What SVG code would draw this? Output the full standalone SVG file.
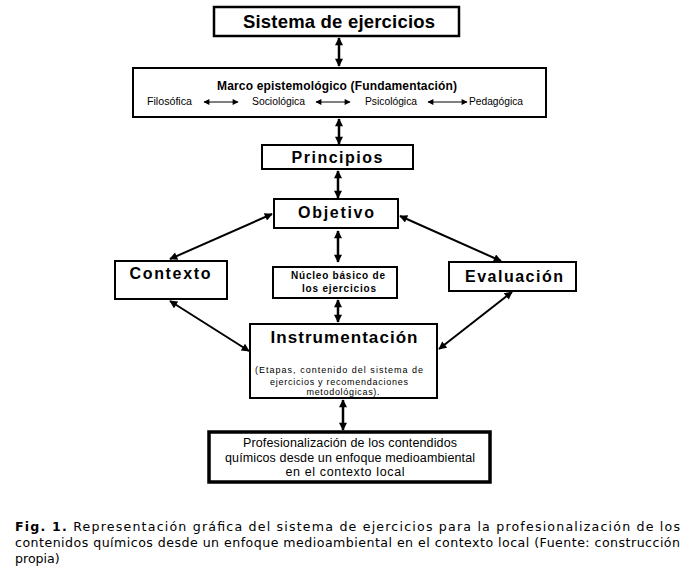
<svg xmlns="http://www.w3.org/2000/svg" width="689" height="572" viewBox="0 0 689 572">
<style>
.box{fill:#fff;stroke:#000;stroke-width:2}
.t{font-family:"Liberation Sans",Arial,sans-serif;fill:#000;text-anchor:middle}
.b{font-weight:bold}
.con{stroke:#000;fill:none}
.v{stroke-width:2.5;marker-start:url(#ah);marker-end:url(#ah)}
.d{stroke-width:2;marker-start:url(#ah2);marker-end:url(#ah2)}
.s{stroke-width:1;marker-start:url(#ah3);marker-end:url(#ah3)}
.cap{font-family:"DejaVu Sans",Verdana,sans-serif;font-size:12.6px;fill:#000}
</style>
<defs>
<marker id="ah" viewBox="0 0 10 10" refX="9" refY="5" markerWidth="3.6" markerHeight="3.2" orient="auto-start-reverse" markerUnits="strokeWidth"><path d="M0,0L10,5L0,10z" fill="#000"/></marker>
<marker id="ah2" viewBox="0 0 10 10" refX="9" refY="5" markerWidth="5" markerHeight="4" orient="auto-start-reverse" markerUnits="strokeWidth"><path d="M0,0L10,5L0,10z" fill="#000"/></marker>
<marker id="ah3" viewBox="0 0 10 10" refX="9" refY="5" markerWidth="8" markerHeight="6" orient="auto-start-reverse" markerUnits="strokeWidth"><path d="M0,0L10,5L0,10z" fill="#000"/></marker>
</defs>
<rect width="689" height="572" fill="#fff"/>
<g id="connectors">
<line class="con v" x1="339" y1="38" x2="339" y2="66"/>
<line class="con v" x1="339" y1="119" x2="339" y2="144"/>
<line class="con v" x1="338" y1="171" x2="338" y2="198"/>
<line class="con v" x1="338" y1="231" x2="338" y2="262"/>
<line class="con v" x1="338" y1="300" x2="338" y2="322"/>
<line class="con v" x1="343" y1="400" x2="343" y2="430"/>
<line class="con d" x1="272" y1="214" x2="170" y2="259"/>
<line class="con d" x1="400" y1="216" x2="501" y2="261"/>
<line class="con d" x1="170" y1="301" x2="249" y2="351"/>
<line class="con d" x1="512" y1="292" x2="439" y2="349"/>
</g>
<g id="sistema">
<rect class="box" x="214" y="7" width="245" height="29" style="stroke-width:2.5"/>
<text class="t b" x="339" y="28" font-size="18.5" textLength="192" lengthAdjust="spacing">Sistema de ejercicios</text>
</g>
<g id="marco">
<rect class="box" x="133" y="68" width="413" height="49"/>
<text class="t b" x="337" y="90" font-size="12" textLength="240" lengthAdjust="spacing">Marco epistemológico (Fundamentación)</text>
<g class="t" font-size="10" style="text-anchor:start">
<text x="147" y="105" textLength="45" lengthAdjust="spacingAndGlyphs">Filosófica</text>
<text x="252" y="105" textLength="53" lengthAdjust="spacingAndGlyphs">Sociológica</text>
<text x="365" y="105" textLength="52" lengthAdjust="spacingAndGlyphs">Psicológica</text>
<text x="469" y="105" textLength="54" lengthAdjust="spacingAndGlyphs">Pedagógica</text>
</g>
<line class="con s" x1="204" y1="102" x2="238" y2="102"/>
<line class="con s" x1="316" y1="102" x2="350" y2="102"/>
<line class="con s" x1="428" y1="102" x2="467" y2="102"/>
</g>
<g id="principios">
<rect class="box" x="262" y="145" width="151" height="24"/>
<text class="t b" x="337" y="163" font-size="16" textLength="91" lengthAdjust="spacing">Principios</text>
</g>
<g id="objetivo">
<rect class="box" x="274" y="199" width="124" height="29"/>
<text class="t b" x="336" y="218" font-size="16" textLength="76" lengthAdjust="spacing">Objetivo</text>
</g>
<g id="contexto">
<rect class="box" x="115" y="261" width="112" height="38"/>
<text class="t b" x="170" y="279" font-size="16" textLength="81" lengthAdjust="spacing">Contexto</text>
</g>
<g id="nucleo">
<rect class="box" x="273" y="267" width="124" height="31"/>
<text class="t b" x="338" y="279" font-size="10" textLength="94" lengthAdjust="spacing">Núcleo básico de</text>
<text class="t b" x="339" y="292" font-size="10" textLength="74" lengthAdjust="spacing">los ejercicios</text>
</g>
<g id="evaluacion">
<rect class="box" x="449" y="262" width="127" height="29"/>
<text class="t b" x="514" y="282" font-size="16" textLength="98" lengthAdjust="spacing">Evaluación</text>
</g>
<g id="instrumentacion">
<rect class="box" x="250" y="324" width="187" height="74"/>
<text class="t b" x="344" y="343" font-size="17" textLength="147" lengthAdjust="spacing">Instrumentación</text>
<text class="t" x="339" y="373" font-size="9" textLength="168" lengthAdjust="spacing">(Etapas, contenido  del sistema de</text>
<text class="t" x="339" y="385" font-size="9" textLength="138" lengthAdjust="spacing">ejercicios y recomendaciones</text>
<text class="t" x="343" y="395" font-size="9" textLength="73" lengthAdjust="spacing">metodológicas).</text>
</g>
<g id="final">
<rect class="box" x="209" y="432" width="281" height="50" style="stroke-width:3.5"/>
<text class="t" x="350" y="447" font-size="12.5" textLength="214" lengthAdjust="spacing">Profesionalización de los contendidos</text>
<text class="t" x="350" y="462" font-size="12.5" textLength="250" lengthAdjust="spacing">químicos desde un enfoque medioambiental</text>
<text class="t" x="345" y="476" font-size="12.5" textLength="119" lengthAdjust="spacing">en el contexto local</text>
</g>
<g id="caption">
<text class="cap" x="15" y="531" textLength="665" lengthAdjust="spacing"><tspan font-weight="bold">Fig. 1.</tspan> Representación gráfica del sistema de ejercicios para la profesionalización de los</text>
<text class="cap" x="15" y="547" textLength="665" lengthAdjust="spacing">contenidos químicos desde un enfoque medioambiental en el contexto local (Fuente: construcción</text>
<text class="cap" x="15" y="563">propia)</text>
</g>
</svg>
